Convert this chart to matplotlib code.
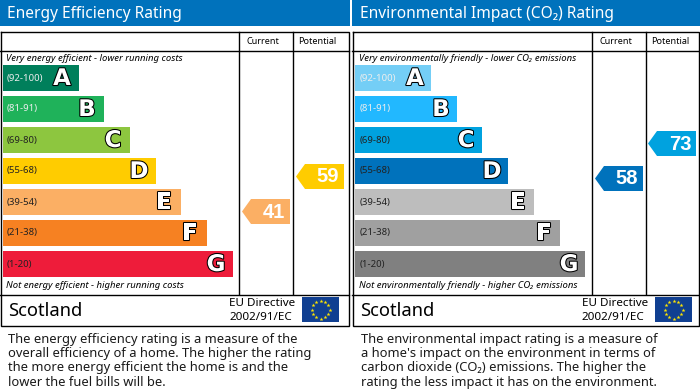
import numpy as np
import matplotlib
matplotlib.use("Agg")
import matplotlib.pyplot as plt
import matplotlib.patheffects as pe

# ---------------------------------------------------------
# Data read off the certificate
# ---------------------------------------------------------
bands = ["A", "B", "C", "D", "E", "F", "G"]
ranges = ["(92-100)", "(81-91)", "(69-80)", "(55-68)", "(39-54)", "(21-38)", "(1-20)"]

energy_lengths = [76, 101, 127, 153, 178, 204, 230]
co2_lengths = [76, 102, 127, 153, 179, 205, 230]

energy_colors = ["#007F5B", "#1FB25A", "#8DC63F", "#FFCC00", "#FBAF64", "#F68122", "#EE1C3A"]
co2_colors = ["#74CEF6", "#22B8FF", "#00A2DF", "#0072BC", "#BDBDBD", "#A0A0A0", "#808080"]

energy_scores = [41, 59]
co2_scores = [58, 73]

energy_text = [
    "The energy efficiency rating is a measure of the",
    "overall efficiency of a home. The higher the rating",
    "the more energy efficient the home is and the",
    "lower the fuel bills will be.",
]
co2_text = [
    "The environmental impact rating is a measure of",
    "a home's impact on the environment in terms of",
    "carbon dioxide (CO\u2082) emissions. The higher the",
    "rating the less impact it has on the environment.",
]

# ---------------------------------------------------------
# Layout, everything in image pixels
# ---------------------------------------------------------
BLUE = "#0072BC"
BAND_TOPS = [65, 96, 127, 158, 189, 220, 251]
BAND_H = 26
LIGHT_RANGE = {0, 1}

plt.rcParams["font.family"] = ["Noto Sans", "DejaVu Sans"]
fig = plt.figure(figsize=(7.0, 3.91), dpi=100)
ax = fig.add_axes([0, 0, 1, 1])
ax.set_xlim(0, 700)
ax.set_ylim(391, 0)
ax.axis("off")


def draw_arrow(left, top, value, color):
    w, h, nose = 48, 25, 9
    xs = [left, left + nose, left + w, left + w, left + nose]
    ys = [top + h / 2, top, top, top + h, top + h]
    ax.fill(xs, ys, color=color, lw=0, zorder=3)
    ax.text(left + 32, top + h / 2 + 0.5, str(value), color="white", fontsize=14.5,
            family="Liberation Sans", fontweight="bold", ha="center", va="center", zorder=4)


def draw_flag(x0):
    ax.barh(309.5, 37, height=25, left=x0, color="#103F91", zorder=2)
    cx, cy = x0 + 18.5, 309.5
    ang = np.arange(12) * np.pi / 6
    ax.scatter(cx + 9 * np.cos(ang), cy + 9 * np.sin(ang), marker="*", s=9,
               color="#FFE600", linewidths=0, zorder=3)


def draw_panel(x0, x1, dx, v1, v2, header, top_note, bottom_note, lengths, colors, body):
    # header strip
    ax.barh(13, x1 - x0, height=26, left=x0, color=BLUE, zorder=1)
    ax.text(x0 + 7 + dx, 13.5, header, color="white", fontsize=11.15, va="center", ha="left")

    # frame and rules
    ax.plot([x0 + 0.5, x1 - 1, x1 - 1, x0 + 0.5, x0 + 0.5], [32, 32, 325.5, 325.5, 32],
            color="black", lw=1, zorder=5, solid_joinstyle="miter")
    ax.plot([x0, x1 - 1], [50.5, 50.5], color="black", lw=1, zorder=5)
    ax.plot([x0, x1 - 1], [294.5, 294.5], color="black", lw=1, zorder=5)
    ax.plot([v1, v1], [32, 294], color="black", lw=1, zorder=5)
    ax.plot([v2, v2], [32, 294], color="black", lw=1, zorder=5)
    ax.text(v1 + 24, 41.5, "Current", fontsize=6.5, ha="center", va="center")
    ax.text(v2 + 24, 41.5, "Potential", fontsize=6.5, ha="center", va="center")

    ax.text(x0 + 6 + dx, 58.5, top_note, fontsize=6.87, style="italic", va="center")
    ax.text(x0 + 6 + dx, 285.5, bottom_note, fontsize=6.87, style="italic", va="center")

    # rating bands
    left = x0 + 3
    for i, band in enumerate(bands):
        yc = BAND_TOPS[i] + BAND_H / 2
        ax.barh(yc, lengths[i], height=BAND_H, left=left, color=colors[i], zorder=2)
        ax.text(left + 4 + dx, yc, ranges[i], fontsize=6.9, va="center", zorder=3,
                color="#EEEEEE" if i in LIGHT_RANGE else "#222222")
        t = ax.text(left + lengths[i] - 17 + dx, yc + 0.5, band, fontsize=16.5,
                    family="DejaVu Sans", fontweight="bold", color="white",
                    ha="center", va="center", zorder=3)
        t.set_path_effects([pe.Stroke(linewidth=1.5, foreground="black"), pe.Normal()])

    # footer
    ax.text(x0 + 8, 310.5, "Scotland", fontsize=13.2, va="center")
    ax.text(x0 + 229 + dx, 304, "EU Directive", fontsize=8.4, va="center")
    ax.text(x0 + 229 + dx, 317, "2002/91/EC", fontsize=8.4, va="center")
    draw_flag(x0 + 302 + dx)

    for k, line in enumerate(body):
        ax.text(x0 + 8 + dx, 339.5 + k * 14.2, line, fontsize=9.3, color="#1A1A1A", va="center")


# ---------------------------------------------------------
# The two panels
# ---------------------------------------------------------
draw_panel(0, 350, 0, 239, 293, "Energy Efficiency Rating",
           "Very energy efficient - lower running costs",
           "Not energy efficient - higher running costs",
           energy_lengths, energy_colors, energy_text)
draw_panel(352, 700, 1, 592, 646, "Environmental Impact (CO\u2082) Rating",
           "Very environmentally friendly - lower CO\u2082 emissions",
           "Not environmentally friendly - higher CO\u2082 emissions",
           co2_lengths, co2_colors, co2_text)

draw_arrow(242, 199, energy_scores[0], energy_colors[4])
draw_arrow(296, 164, energy_scores[1], energy_colors[3])
draw_arrow(595, 166, co2_scores[0], co2_colors[3])
draw_arrow(648, 131, co2_scores[1], co2_colors[2])

fig.savefig("out.png", dpi=100)
